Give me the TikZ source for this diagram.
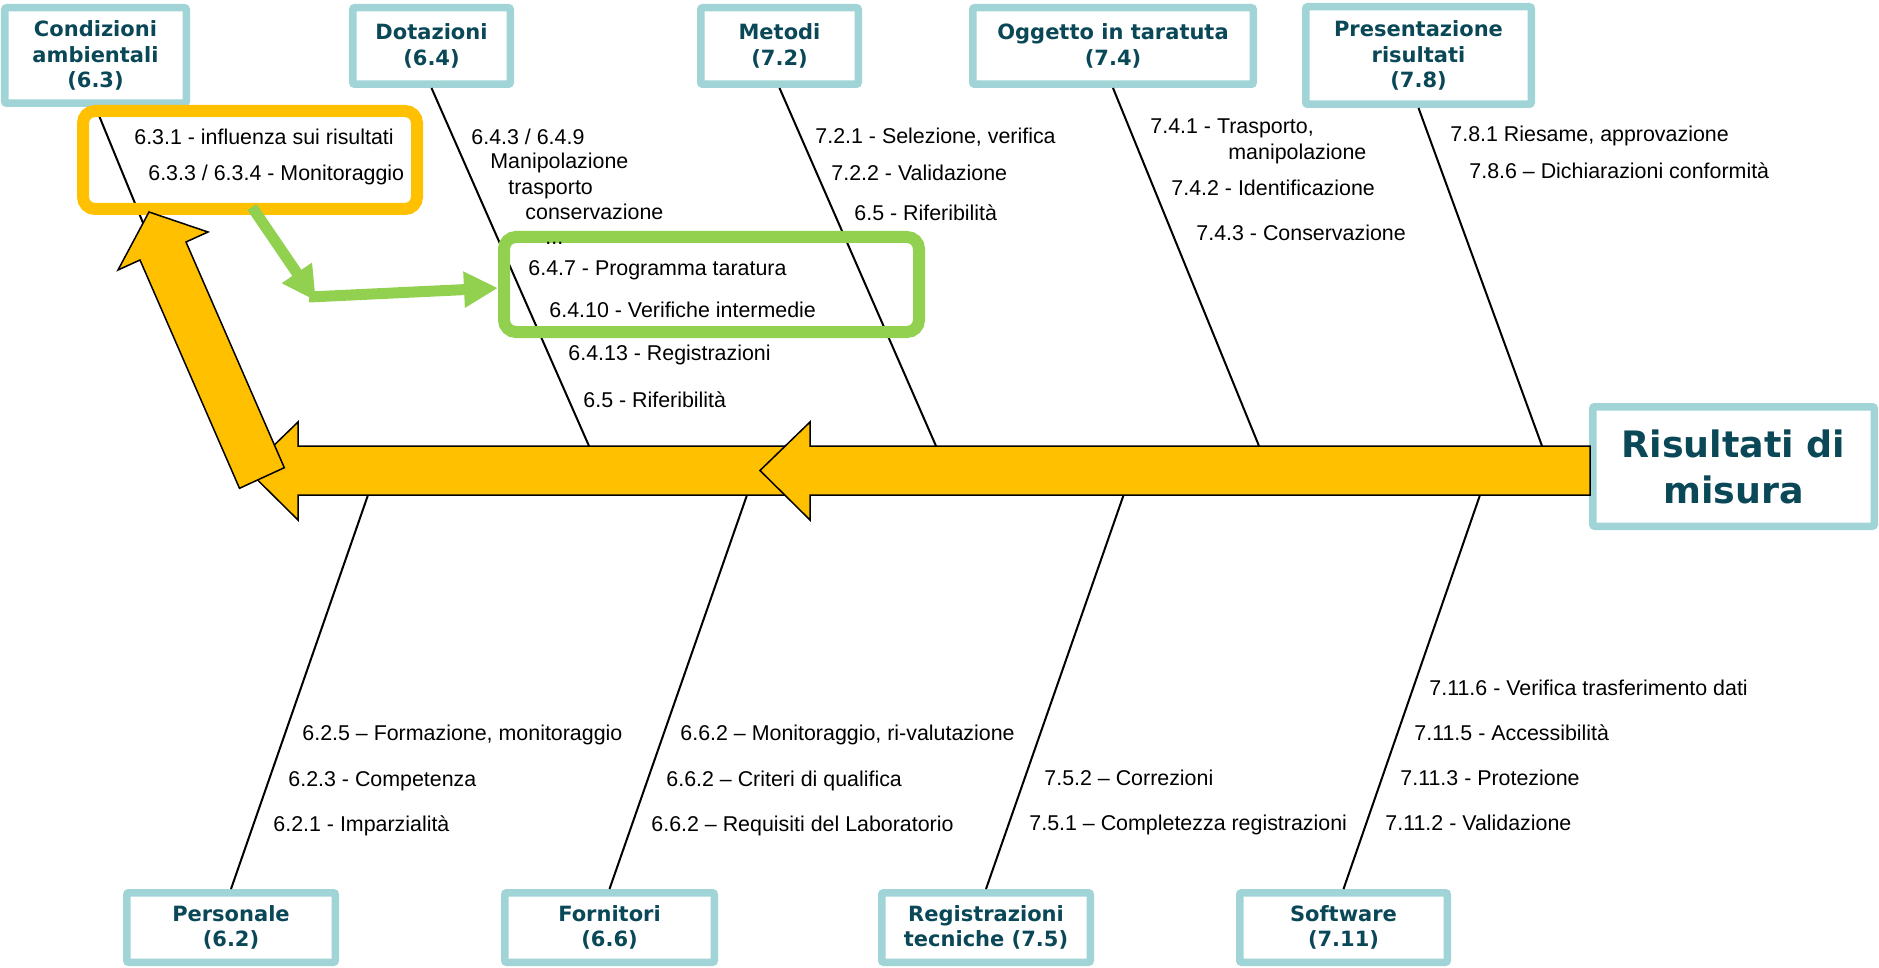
\documentclass[tikz,border=0pt]{standalone}
\usepackage{fontspec}
\setmainfont{Liberation Sans}
\newfontfamily\titlefont{DejaVu Sans}
\usetikzlibrary{arrows.meta}
\definecolor{boxteal}{RGB}{160,212,215}
\definecolor{titleteal}{RGB}{10,72,88}
\definecolor{fishyellow}{RGB}{255,192,0}
\definecolor{lightgreen}{RGB}{146,208,80}
\begin{document}
\begin{tikzpicture}[x=0.5pt,y=-0.5pt,
  cat/.style={draw=boxteal, line width=3.75pt, fill=white, rounded corners=1pt, inner sep=0pt, align=center,
    font=\titlefont\bfseries\fontsize{10.5}{12.75}\selectfont, text=titleteal},
  bigcat/.style={cat, font=\titlefont\bfseries\fontsize{18.2}{23}\selectfont},
  item/.style={anchor=base west, inner sep=0pt, font=\fontsize{10.7}{12.8}\selectfont},
  bone/.style={line width=1pt, draw=black},
  fish/.style={fill=fishyellow, draw=black, line width=0.75pt, line join=miter},
  hlbox/.style={line width=6pt, rounded corners=6pt, inner sep=0pt},
  garrow/.style={draw=lightgreen, line width=5.5pt, -{Triangle[length=17pt,width=17pt]}}
]
\useasboundingbox (0,0) rectangle (1879,968);

% category boxes
\node[cat, minimum width=90.75pt, minimum height=47.75pt] (cond) at (95.5,55.5) {Condizioni\\ambientali\\(6.3)};
\node[cat, minimum width=78.75pt, minimum height=38.25pt] (dot) at (431.5,46) {Dotazioni\\(6.4)};
\node[cat, minimum width=78.75pt, minimum height=38.25pt] (met) at (779.5,46) {Metodi\\(7.2)};
\node[cat, minimum width=140.25pt, minimum height=38.25pt] (ogg) at (1113,46) {Oggetto in taratuta\\(7.4)};
\node[cat, minimum width=112.75pt, minimum height=48.75pt] (pres) at (1418.5,55.5) {Presentazione\\risultati\\(7.8)};
\node[bigcat, minimum width=140.75pt, minimum height=59.75pt] (ris) at (1733.5,466.5) {Risultati di\\misura};
\node[cat, minimum width=104.25pt, minimum height=34.75pt] (pers) at (231,927.5) {Personale\\(6.2)};
\node[cat, minimum width=104.75pt, minimum height=34.75pt] (forn) at (609.5,927.5) {Fornitori\\(6.6)};
\node[cat, minimum width=104.25pt, minimum height=34.75pt] (reg) at (986,927.5) {Registrazioni\\tecniche (7.5)};
\node[cat, minimum width=103.75pt, minimum height=34.75pt] (soft) at (1343.5,927.5) {Software\\(7.11)};

% attachment points on the spine
\coordinate (scond) at (234.5,446);
\coordinate (sdot) at (589,446);
\coordinate (smet) at (936,446);
\coordinate (sogg) at (1259,446);
\coordinate (spres) at (1542,446);
\coordinate (spers) at (368,495);
\coordinate (sforn) at (747,495);
\coordinate (sreg) at (1123.6,495);
\coordinate (ssoft) at (1480,495);

% bones
\draw[bone] (cond.south) -- (scond);
\draw[bone] (dot.south) -- (sdot);
\draw[bone] (met.south) -- (smet);
\draw[bone] (ogg.south) -- (sogg);
\draw[bone] (pres.south) -- (spres);
\draw[bone] (spers) -- (pers.north);
\draw[bone] (sforn) -- (forn.north);
\draw[bone] (sreg) -- (reg.north);
\draw[bone] (ssoft) -- (soft.north);

% spine arrows
\draw[fish] (248,470.5) -- (298,422) -- (298,446) -- (800,446) -- (800,495) -- (298,495) -- (298,520) -- cycle;
\draw[fish] (1590,446) -- (810,446) -- (810,422) -- (760,470.5) -- (810,520) -- (810,495) -- (1590,495) -- cycle;

% orange highlight box
\node[hlbox, draw=fishyellow, minimum width=167pt, minimum height=49pt] (obox) at (250,160) {};

% diagonal return arrow
\draw[fish] (149,212) -- (208,232) -- (186,242) -- (284.3,467.7) -- (239.5,488.3) -- (140,260) -- (118,270) -- cycle;

% green highlight box
\node[hlbox, draw=lightgreen, minimum width=207.5pt, minimum height=47.5pt] (gbox) at (711.5,284.5) {};

% green arrows
\coordinate (gcorner) at (316,301);
\coordinate (gbar) at (309,297);
\draw[garrow] ([xshift=1pt,yshift=4pt]obox.south) -- (gcorner);
\draw[garrow] (gbar) -- ([yshift=-1.75pt]gbox.west);

% items
\node[item] (c1) at (134,144.5) {6.3.1 - influenza sui risultati};
\node[item] (c2) at (148,180.5) {6.3.3 / 6.3.4 - Monitoraggio};
\node[item] (d1) at (471,144.5) {6.4.3 / 6.4.9};
\node[item] (d2) at (490,168.5) {Manipolazione};
\node[item] (d3) at (508,194.5) {trasporto};
\node[item] (d4) at (525,219.5) {conservazione};
\node[item] (d5) at (545,245) {...};
\node[item] (d6) at (528,275.5) {6.4.7 - Programma taratura};
\node[item] (d7) at (549,317.5) {6.4.10 - Verifiche intermedie};
\node[item] (d8) at (568,360.5) {6.4.13 - Registrazioni};
\node[item] (d9) at (583,407.5) {6.5 - Riferibilità};
\node[item] (m1) at (815,143.5) {7.2.1 - Selezione, verifica};
\node[item] (m2) at (831,180.5) {7.2.2 - Validazione};
\node[item] (m3) at (854,220.5) {6.5 - Riferibilità};
\node[item] (o1) at (1150,133.5) {7.4.1 - Trasporto,};
\node[item] (o2) at (1228,159.5) {manipolazione};
\node[item] (o3) at (1171,195.5) {7.4.2 - Identificazione};
\node[item] (o4) at (1196,240.5) {7.4.3 - Conservazione};
\node[item] (p1) at (1450,141.5) {7.8.1 Riesame, approvazione};
\node[item] (p2) at (1469,178.5) {7.8.6 – Dichiarazioni conformità};
\node[item] (e1) at (302,740.5) {6.2.5 – Formazione, monitoraggio};
\node[item] (e2) at (288,786) {6.2.3 - Competenza};
\node[item] (e3) at (273,831.5) {6.2.1 - Imparzialità};
\node[item] (f1) at (680,740.5) {6.6.2 – Monitoraggio, ri-valutazione};
\node[item] (f2) at (666,786) {6.6.2 – Criteri di qualifica};
\node[item] (f3) at (651,831.5) {6.6.2 – Requisiti del Laboratorio};
\node[item] (r1) at (1044,785.5) {7.5.2 – Correzioni};
\node[item] (r2) at (1029,830.5) {7.5.1 – Completezza registrazioni};
\node[item] (w1) at (1429,695.5) {7.11.6 - Verifica trasferimento dati};
\node[item] (w2) at (1414,740) {7.11.5 - Accessibilità};
\node[item] (w3) at (1400,785.5) {7.11.3 - Protezione};
\node[item] (w4) at (1385,830.5) {7.11.2 - Validazione};
\end{tikzpicture}
\end{document}
